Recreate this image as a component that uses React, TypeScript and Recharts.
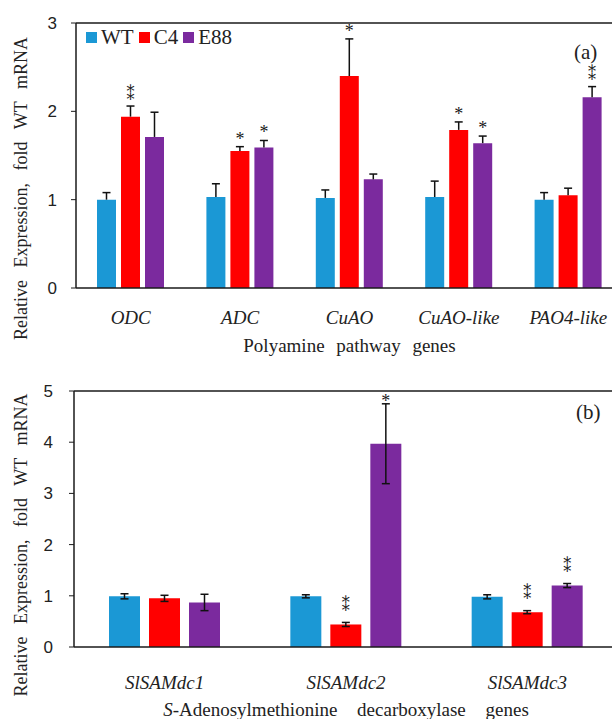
import React from 'react';
import { BarChart, Bar, XAxis, YAxis, ErrorBar, LabelList, ReferenceLine } from 'recharts';

const seriesNames = ['WT', 'C4', 'E88'];
const seriesColors = ['#1B98D5', '#FF0000', '#7B2A9E'];

// Panel (a): polyamine pathway genes
const genesA = ['ODC', 'ADC', 'CuAO', 'CuAO-like', 'PAO4-like'];
const wtA = [1.0, 1.03, 1.02, 1.03, 1.0];
const c4A = [1.94, 1.55, 2.4, 1.79, 1.05];
const e88A = [1.71, 1.59, 1.23, 1.64, 2.16];
const wtErrA = [0.08, 0.15, 0.09, 0.18, 0.08];
const c4ErrA = [0.12, 0.05, 0.42, 0.09, 0.08];
const e88ErrA = [0.28, 0.08, 0.06, 0.08, 0.12];
const c4SigA = ['**', '*', '*', '*', ''];
const e88SigA = ['', '*', '', '*', '**'];
const ticksA = [0, 1, 2, 3];

// Panel (b): S-adenosylmethionine decarboxylase genes
const genesB = ['SlSAMdc1', 'SlSAMdc2', 'SlSAMdc3'];
const wtB = [0.99, 0.99, 0.98];
const c4B = [0.95, 0.44, 0.68];
const e88B = [0.87, 3.97, 1.2];
const wtErrB = [0.05, 0.03, 0.04];
const c4ErrB = [0.06, 0.04, 0.03];
const e88ErrB = [0.16, 0.78, 0.04];
const c4SigB = ['', '**', '**'];
const e88SigB = ['', '*', '**'];
const ticksB = [0, 1, 2, 3, 4, 5];

const dataA = genesA.map((g, i) => ({
  gene: g,
  wt: wtA[i], c4: c4A[i], e88: e88A[i],
  wtErr: [0, wtErrA[i]], c4Err: [0, c4ErrA[i]], e88Err: [0, e88ErrA[i]],
  c4Sig: c4SigA[i], e88Sig: e88SigA[i],
}));

const dataB = genesB.map((g, i) => ({
  gene: g,
  wt: wtB[i], c4: c4B[i], e88: e88B[i],
  wtErr: wtErrB[i], c4Err: c4ErrB[i], e88Err: e88ErrB[i],
  c4Sig: c4SigB[i], e88Sig: e88SigB[i],
}));

const SERIF = '"Liberation Serif", "Times New Roman", serif';
const SANS = '"Liberation Sans", Arial, sans-serif';

const starContent = (vals: number[], errs: number[], doubleOff: number, single: number) => (props: any) => {
  const vb = props.viewBox || {};
  const x = Number(vb.x ?? props.x);
  const y = Number(vb.y ?? props.y);
  const w = Number(vb.width ?? props.width);
  const h = Number(vb.height ?? props.height);
  const idx = props.index;
  const s = props.value;
  if (!s || idx == null) return null;
  const capY = y - (h * errs[idx]) / vals[idx];
  const cx = x + w / 2;
  if (String(s).length === 1) {
    const fs = 18;
    return (
      <text x={cx} y={capY - single + 0.55 * fs} textAnchor="middle" fontFamily={SERIF} fontSize={fs} style={{ fill: '#1a1a1a', stroke: 'none' }}>*</text>
    );
  }
  // two asterisks stacked vertically (U+2051)
  return (
    <text x={cx} y={capY - doubleOff} textAnchor="middle" dominantBaseline="central" fontFamily='"DejaVu Serif", "DejaVu Sans", serif' fontSize={16} style={{ fill: '#1a1a1a', stroke: 'none' }}>{'\u2051'}</text>
  );
};

const CatTick = (off: number) => (props: any) => {
  const { x, y, payload } = props;
  return (
    <text x={x} y={y + off} textAnchor="middle" dominantBaseline="central" fontFamily={SERIF} fontStyle="italic" fontSize={19} fill="#222">
      {payload.value}
    </text>
  );
};

const XTitle = (props: any) => {
  const { viewBox, off, kind } = props;
  const cx = viewBox.x + viewBox.width / 2;
  const cy = viewBox.y + off;
  if (kind === 'b') {
    return (
      <text x={cx} y={cy} textAnchor="middle" dominantBaseline="central" fontFamily={SERIF} fontSize={19} fill="#222" style={{ wordSpacing: 15 }}>
        <tspan fontStyle="italic">S</tspan>-Adenosylmethionine decarboxylase genes
      </text>
    );
  }
  return (
    <text x={cx} y={cy} textAnchor="middle" dominantBaseline="central" fontFamily={SERIF} fontSize={19} fill="#222" style={{ wordSpacing: 7 }}>
      Polyamine pathway genes
    </text>
  );
};

const YTitle = (props: any) => {
  const { viewBox, shift } = props;
  const cx = viewBox.x + 21;
  const cy = viewBox.y + viewBox.height / 2 + shift;
  return (
    <text x={cx} y={cy} transform={`rotate(-90, ${cx}, ${cy})`} textAnchor="middle" dominantBaseline="central" fontFamily={SERIF} fontSize={18} fill="#222" style={{ wordSpacing: 8 }}>
      Relative Expression, fold WT mRNA
    </text>
  );
};

const Legendish = () => (
  <div style={{ position: 'absolute', left: 86, top: 27, display: 'flex', alignItems: 'center', fontFamily: SERIF, fontSize: 21, color: '#222', lineHeight: '20px' }}>
    {seriesNames.map((n, i) => (
      <div key={n} style={{ display: 'flex', alignItems: 'center', marginRight: 5 }}>
        <span style={{ display: 'inline-block', width: 11, height: 11, background: seriesColors[i], marginRight: 4 }} />
        <span>{n}</span>
      </div>
    ))}
  </div>
);

const axisStroke = '#1a1a1a';

export default function App() {
  return (
    <div style={{ position: 'absolute', left: 0, top: 0, width: 612, height: 719, overflow: 'hidden', background: '#fff' }}>
      <style>{`.panel-a .recharts-errorBar line:nth-of-type(3){display:none}`}</style>
      <div className="panel-a" style={{ position: 'absolute', left: 0, top: 0, width: 630, height: 360 }}>
        <BarChart width={630} height={360} data={dataA} margin={{ top: 23, right: 7, left: 0, bottom: 0 }} barSize={19} barGap={5}>
          <XAxis dataKey="gene" height={72} tickLine={false} tickSize={0} tickMargin={0} interval={0}
            axisLine={{ stroke: axisStroke, strokeWidth: 1.5 }} tick={CatTick(29)}
            label={<XTitle off={57} kind="a" />} />
          <YAxis width={76} domain={[0, 3]} ticks={ticksA} interval={0} tickSize={5} tickMargin={14}
            axisLine={{ stroke: axisStroke, strokeWidth: 1.5 }} tickLine={{ stroke: axisStroke }}
            tick={{ fontFamily: SANS, fontSize: 17, fill: '#222' }}
            label={<YTitle shift={33} />} />
          <ReferenceLine y={3} stroke={axisStroke} strokeWidth={1.5} />
          <Bar dataKey="wt" fill={seriesColors[0]} isAnimationActive={false}>
            <ErrorBar dataKey="wtErr" width={4} stroke="#111" strokeWidth={1.5} />
          </Bar>
          <Bar dataKey="c4" fill={seriesColors[1]} isAnimationActive={false}>
            <ErrorBar dataKey="c4Err" width={4} stroke="#111" strokeWidth={1.5} />
            <LabelList dataKey="c4Sig" content={starContent(c4A, c4ErrA, 12, 12)} />
          </Bar>
          <Bar dataKey="e88" fill={seriesColors[2]} isAnimationActive={false}>
            <ErrorBar dataKey="e88Err" width={4} stroke="#111" strokeWidth={1.5} />
            <LabelList dataKey="e88Sig" content={starContent(e88A, e88ErrA, 12, 12)} />
          </Bar>
        </BarChart>
        <Legendish />
        <div style={{ position: 'absolute', left: 574, top: 40, fontFamily: SERIF, fontSize: 21, color: '#222' }}>(a)</div>
      </div>
      <div style={{ position: 'absolute', left: 0, top: 360, width: 630, height: 359 }}>
        <BarChart width={630} height={359} data={dataB} margin={{ top: 31, right: 12, left: 0, bottom: 0 }} barSize={31} barGap={9}>
          <XAxis dataKey="gene" height={72} tickLine={false} tickSize={0} tickMargin={0} interval={0}
            axisLine={{ stroke: axisStroke, strokeWidth: 1.5 }} tick={CatTick(35)}
            label={<XTitle off={62} kind="b" />} />
          <YAxis width={74} domain={[0, 5]} ticks={ticksB} interval={0} tickSize={5} tickMargin={16}
            axisLine={{ stroke: axisStroke, strokeWidth: 1.5 }} tickLine={{ stroke: axisStroke }}
            tick={{ fontFamily: SANS, fontSize: 17, fill: '#222' }}
            label={<YTitle shift={26} />} />
          <ReferenceLine y={5} stroke={axisStroke} strokeWidth={1.5} />
          <Bar dataKey="wt" fill={seriesColors[0]} isAnimationActive={false}>
            <ErrorBar dataKey="wtErr" width={4} stroke="#111" strokeWidth={1.5} />
          </Bar>
          <Bar dataKey="c4" fill={seriesColors[1]} isAnimationActive={false}>
            <ErrorBar dataKey="c4Err" width={4} stroke="#111" strokeWidth={1.5} />
            <LabelList dataKey="c4Sig" content={starContent(c4B, c4ErrB, 17, 7)} />
          </Bar>
          <Bar dataKey="e88" fill={seriesColors[2]} isAnimationActive={false}>
            <ErrorBar dataKey="e88Err" width={4} stroke="#111" strokeWidth={1.5} />
            <LabelList dataKey="e88Sig" content={starContent(e88B, e88ErrB, 17, 7)} />
          </Bar>
        </BarChart>
        <div style={{ position: 'absolute', left: 576, top: 40, fontFamily: SERIF, fontSize: 21, color: '#222' }}>(b)</div>
      </div>
    </div>
  );
}
